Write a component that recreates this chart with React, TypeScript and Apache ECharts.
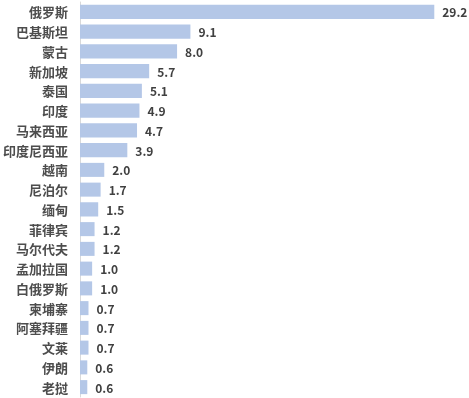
import React, { useEffect, useRef } from "react";
import * as echarts from "echarts";

const categories = ["俄罗斯", "巴基斯坦", "蒙古", "新加坡", "泰国", "印度", "马来西亚", "印度尼西亚", "越南", "尼泊尔", "缅甸", "菲律宾", "马尔代夫", "孟加拉国", "白俄罗斯", "柬埔寨", "阿塞拜疆", "文莱", "伊朗", "老挝"];
const values = [29.2, 9.1, 8.0, 5.7, 5.1, 4.9, 4.7, 3.9, 2.0, 1.7, 1.5, 1.2, 1.2, 1.0, 1.0, 0.7, 0.7, 0.7, 0.6, 0.6];

export default function App() {
  const ref = useRef<HTMLDivElement>(null);
  useEffect(() => {
    if (!ref.current) return;
    const chart = echarts.init(ref.current, null, { renderer: "svg" });
    chart.setOption({
      animation: false,
      grid: { left: 79, right: 25, top: 2, bottom: 1, containLabel: false },
      xAxis: {
        type: "value",
        min: 0,
        max: 30,
        show: false,
      },
      yAxis: {
        type: "category",
        data: categories,
        inverse: true,
        axisLine: { show: true, lineStyle: { color: "#d9d9d9", width: 1 } },
        axisTick: { show: false },
        axisLabel: {
          margin: 12,
          color: "#4d4d4d",
          fontSize: 13,
          fontWeight: "bold",
          fontFamily: "Noto Sans CJK SC",
        },
      },
      series: [
        {
          type: "bar",
          data: values,
          barCategoryGap: "29%",
          itemStyle: { color: "#b4c7e7" },
          label: {
            show: true,
            position: "right",
            distance: 8,
            color: "#404040",
            fontSize: 12,
            fontWeight: "bold",
            fontFamily: "Noto Sans CJK SC",
            formatter: (p: any) => Number(p.value).toFixed(1),
          },
        },
      ],
    });
    return () => chart.dispose();
  }, []);
  return <div ref={ref} style={{ position: "fixed", left: 0, top: 0, width: 469, height: 398 }} />;
}
